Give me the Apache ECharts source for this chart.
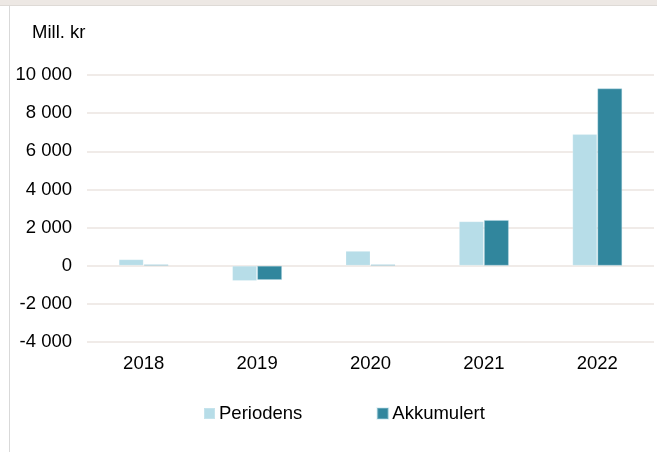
<!DOCTYPE html>
<html>
<head>
<meta charset="utf-8">
<script src="https://cdn.jsdelivr.net/npm/echarts@6/dist/echarts.min.js"></script>
<style>
  html, body { margin: 0; padding: 0; background: #fff; }
  #main { width: 657px; height: 452px; }
</style>
</head>
<body>
<div id="main"></div>
<script>
var years = ['2018', '2019', '2020', '2021', '2022']
var periodens = [340, -800, 780, 2330, 6900]
var akkumulert = [70, -750, 70, 2400, 9300]
var seriesNames = ['Periodens', 'Akkumulert']
var colors = ['#b7dde8', '#31869d']

var font = 'Liberation Sans, Arial, sans-serif'

function fmt(v) {
  var s = String(Math.abs(v)).replace(/\B(?=(\d{3})+(?!\d))/g, ' ')
  return (v < 0 ? '-' : '') + s
}

var myChart = echarts.init(document.getElementById('main'))
var option = {
  animation: false,
  textStyle: { fontFamily: font },
  grid: { left: 87, right: 3, top: 75, bottom: 110, containLabel: false },
  graphic: [
    { type: 'rect', left: 0, top: 0, shape: { width: 657, height: 5 }, style: { fill: '#ede8e4' }, silent: true },
    { type: 'rect', left: 0, top: 5, shape: { width: 657, height: 1 }, style: { fill: '#dedad6' }, silent: true },
    { type: 'rect', left: 9, top: 6, shape: { width: 1, height: 446 }, style: { fill: '#d9d9d9' }, silent: true },
    { type: 'text', left: 32, top: 23, style: { text: 'Mill. kr', fill: '#000', font: '18.5px ' + font } }
  ],
  legend: {
    left: 203,
    top: 404,
    padding: 0,
    itemGap: 74,
    itemWidth: 11,
    itemHeight: 11,
    icon: 'rect',
    textStyle: { fontSize: 18.5, color: '#000', padding: [0, 0, 0, -1] },
    data: seriesNames
  },
  xAxis: {
    type: 'category',
    data: years,
    axisLine: { show: false },
    axisTick: { show: false },
    axisLabel: { fontSize: 18.5, color: '#000', margin: 12 }
  },
  yAxis: {
    type: 'value',
    min: -4000,
    max: 10000,
    interval: 2000,
    axisLine: { show: false },
    axisTick: { show: false },
    axisLabel: { fontSize: 18.5, color: '#000', margin: 15, formatter: fmt },
    splitLine: { lineStyle: { color: '#ebe5e0', width: 1.5 } }
  },
  series: [
    {
      name: seriesNames[0],
      type: 'bar',
      data: periodens,
      barWidth: 25,
      barGap: '0%',
      itemStyle: { color: colors[0], borderColor: 'rgba(255,255,255,0.2)', borderWidth: 1 }
    },
    {
      name: seriesNames[1],
      type: 'bar',
      data: akkumulert,
      barWidth: 25,
      barGap: '0%',
      itemStyle: { color: colors[1], borderColor: 'rgba(183,221,232,0.35)', borderWidth: 1 }
    }
  ]
}
myChart.setOption(option)
</script>
</body>
</html>
